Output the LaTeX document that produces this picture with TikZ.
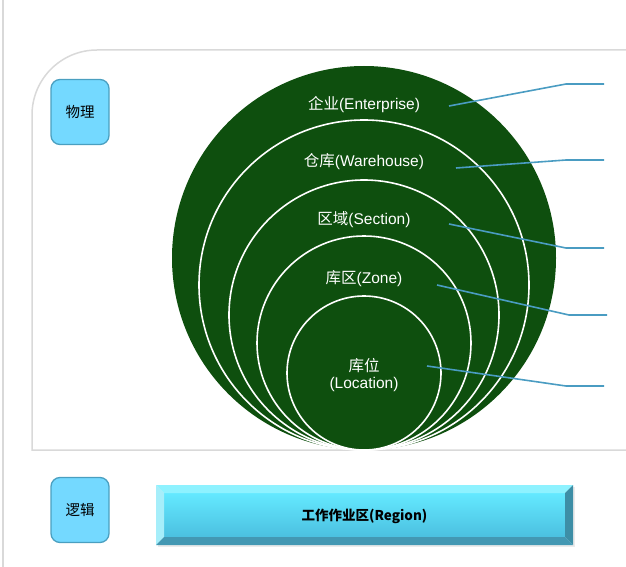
\documentclass[tikz,border=0pt]{standalone}
\usepackage{fontspec}
\setmainfont{Liberation Sans}
\newfontfamily\cjk{Noto Sans CJK SC}
\definecolor{forest}{HTML}{0E4F0E}
\definecolor{leader}{HTML}{4A9CC2}
\definecolor{tagfill}{HTML}{74D9FF}
\definecolor{tagline}{HTML}{4A9FC0}
\definecolor{panelgray}{HTML}{D9D9D9}
\definecolor{facetop}{HTML}{64E9FF}
\definecolor{facebot}{HTML}{4BC0E0}
\definecolor{bevtop}{HTML}{8EF2FF}
\definecolor{bevleft}{HTML}{A6EEFA}
\definecolor{bevright}{HTML}{3D8EA6}
\definecolor{bevbot}{HTML}{4398B3}
\begin{document}
\begin{tikzpicture}[x=1pt,y=-1pt,
    ring/.style={draw=white, line width=1.6pt, fill=forest},
    lbl/.style={text=white, align=center, font=\fontsize{15.5}{17}\selectfont},
    tag/.style={draw=tagline, line width=1.3pt, fill=tagfill, rounded corners=9pt,
      minimum width=58pt, minimum height=65pt, font=\cjk\fontsize{14.5}{16}\selectfont},
    callout/.style={draw=leader, line width=1.6pt}]
  \useasboundingbox (0,0) rectangle (626,567);
  % frame
  \draw[panelgray, line width=1.5pt] (3,0) -- (3,567);
  \draw[panelgray, line width=1.5pt] (626,450) -- (32,450) -- (32,115)
    arc[start angle=180, end angle=270, radius=65] -- (626,50);
  % nested rings
  \fill[forest] (364,258) circle (192);
  \draw[ring] (364,285) circle (165);
  \draw[ring] (364,315) circle (135);
  \draw[ring] (364,343) circle (107);
  \draw[ring] (364,373) circle (77);
  \node[lbl] (ent) at (364,104.5) {{\cjk 企业}(Enterprise)};
  \node[lbl] (wh) at (364,161.5) {{\cjk 仓库}(Warehouse)};
  \node[lbl] (sec) at (364,219.5) {{\cjk 区域}(Section)};
  \node[lbl] (zone) at (364,278.5) {{\cjk 库区}(Zone)};
  \node[lbl] (loc) at (364,375) {{\cjk 库位}\\(Location)};
  % callouts
  \coordinate (p1) at (449,106); \coordinate (k1) at (566,84);  \coordinate (t1) at (604,84);
  \coordinate (p2) at (456,168); \coordinate (k2) at (566,160); \coordinate (t2) at (604,160);
  \coordinate (p3) at (449,224); \coordinate (k3) at (566,248); \coordinate (t3) at (604,248);
  \coordinate (p4) at (437,285); \coordinate (k4) at (569,315); \coordinate (t4) at (607,315);
  \coordinate (p5) at (427,366); \coordinate (k5) at (566,386); \coordinate (t5) at (604,386);
  \begin{scope}[callout]
    \draw (p1) -- (k1) -- (t1);
    \draw (p2) -- (k2) -- (t2);
    \draw (p3) -- (k3) -- (t3);
    \draw (p4) -- (k4) -- (t4);
    \draw (p5) -- (k5) -- (t5);
  \end{scope}
  % side tags
  \node[tag] (phys) at (80,112) {物理};
  \node[tag] (logic) at (80,510) {逻辑};
  % bevelled bar
  \fill[black!8] (158,487) rectangle (575,547);
  \shade[top color=facetop, bottom color=facebot] (164,493) rectangle (565,537);
  \fill[bevtop] (156,485) -- (573,485) -- (565,493) -- (164,493) -- cycle;
  \fill[bevleft] (156,485) -- (164,493) -- (164,537) -- (156,545) -- cycle;
  \fill[bevright] (573,485) -- (573,545) -- (565,537) -- (565,493) -- cycle;
  \fill[bevbot] (156,545) -- (164,537) -- (565,537) -- (573,545) -- cycle;
  \node[font=\cjk\bfseries\fontsize{13.5}{15}\selectfont] (region) at (364.5,516) {工作作业区(Region)};
\end{tikzpicture}
\end{document}
